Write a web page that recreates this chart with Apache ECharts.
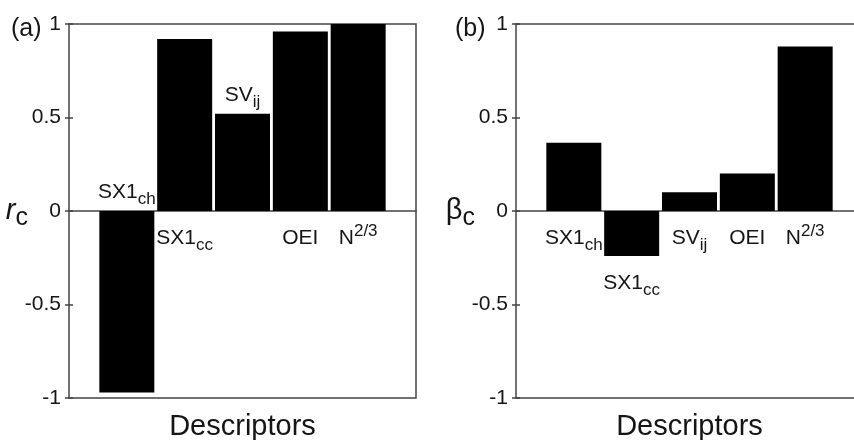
<!DOCTYPE html>
<html><head><meta charset="utf-8">
<script src="https://cdn.jsdelivr.net/npm/echarts@6/dist/echarts.min.js"></script>
<style>html,body{margin:0;padding:0;background:#fff}#c{width:854px;height:440px}</style>
</head><body><div id="c"></div>
<script>
// ---- data ----
const descriptorBase = ['SX1', 'SX1', 'SV', 'OEI', 'N'];
const descriptorSub = ['ch', 'cc', 'ij', '', ''];
const descriptorSup = ['', '', '', '', '2/3'];
const descriptorIndex = [1, 2, 3, 4, 5];
const rValues = [-0.97, 0.92, 0.52, 0.96, 1.0];
const betaValues = [0.365, -0.24, 0.10, 0.20, 0.88];
const panelTags = ['(a)', '(b)'];
const xAxisTitle = 'Descriptors';

// ---- styling ----
const FONT = 'Liberation Sans';
const AXIS_COLOR = '#444';
const TEXT_COLOR = '#151515';
const labelPlacementA = ['top', 'bottom', 'top', 'bottom', 'bottom'];
const labelPlacementB = ['bottom', 'bottom', 'bottom', 'bottom', 'bottom'];

function labelText(i) {
  let s = '{b|' + descriptorBase[i] + '}';
  if (descriptorSub[i]) s += '{sub|' + descriptorSub[i] + '}';
  if (descriptorSup[i]) s += '{sup|' + descriptorSup[i] + '}';
  return s;
}
const labelRich = {
  b: { fontSize: 21, lineHeight: 31, verticalAlign: 'middle', fontFamily: FONT, color: TEXT_COLOR },
  sub: { fontSize: 17, lineHeight: 17, verticalAlign: 'bottom', fontFamily: FONT, color: TEXT_COLOR },
  sup: { fontSize: 17, lineHeight: 17, verticalAlign: 'top', fontFamily: FONT, color: TEXT_COLOR }
};

const grids = [
  { left: 69, top: 24, width: 347, height: 374 },
  { left: 516, top: 24, width: 347, height: 374 }
];

function yAxes(gridIndex, nameMain) {
  return [
    {
      type: 'value', gridIndex: gridIndex, position: 'left', min: -1, max: 1, interval: 0.5,
      axisLine: { show: false },
      axisTick: { show: true, inside: true, length: 4, lineStyle: { color: AXIS_COLOR, width: 1.5 } },
      axisLabel: { fontSize: 21, margin: 8, color: TEXT_COLOR, fontFamily: FONT },
      splitLine: { show: false },
      name: nameMain, nameLocation: 'middle', nameRotate: 0, nameGap: 41, nameMoveOverlap: false,
      nameTextStyle: {
        rich: {
          n: { fontSize: 29, fontFamily: FONT, color: TEXT_COLOR, lineHeight: 40, verticalAlign: 'middle' },
          ni: { fontSize: 29, fontFamily: FONT, fontStyle: 'italic', color: TEXT_COLOR, lineHeight: 40, verticalAlign: 'middle' },
          s: { fontSize: 25, fontFamily: FONT, color: TEXT_COLOR, lineHeight: 26, verticalAlign: 'bottom' }
        }
      }
    },
    {
      type: 'value', gridIndex: gridIndex, position: 'right', min: -1, max: 1, interval: 0.5,
      axisLine: { show: false },
      axisTick: { show: true, inside: true, length: 4, lineStyle: { color: AXIS_COLOR, width: 1.5 } },
      axisLabel: { show: false },
      splitLine: { show: false }
    }
  ];
}

function xAxes(gridIndex) {
  return [
    {
      type: 'value', gridIndex: gridIndex, min: 0, max: 6,
      axisLine: { show: true, onZero: true, lineStyle: { color: AXIS_COLOR, width: 1.5 } },
      axisTick: { show: false }, axisLabel: { show: false }, splitLine: { show: false }
    },
    {
      type: 'value', gridIndex: gridIndex, min: 0, max: 6, position: 'bottom',
      axisLine: { show: false, onZero: false }, axisTick: { show: false }, axisLabel: { show: false },
      splitLine: { show: false },
      name: xAxisTitle, nameLocation: 'middle', nameGap: 14, nameMoveOverlap: false,
      nameTextStyle: { fontSize: 29, fontFamily: FONT, color: TEXT_COLOR, verticalAlign: 'top' }
    }
  ];
}

function barSeries(values, placement, xIdx, yIdx) {
  return {
    type: 'bar', xAxisIndex: xIdx, yAxisIndex: yIdx, barWidth: 55,
    itemStyle: { color: '#000' },
    data: values.map((v, i) => ({
      value: [descriptorIndex[i], v],
      label: {
        show: true, position: placement[i], distance: placement[i] === 'top' ? 3 : 12,
        formatter: labelText(i), rich: labelRich
      }
    }))
  };
}

const chart = echarts.init(document.getElementById('c'), null, { renderer: 'canvas' });
chart.setOption({
  animation: false,
  backgroundColor: '#fff',
  grid: grids.map(g => Object.assign({
    show: true, borderColor: AXIS_COLOR, borderWidth: 1.5, backgroundColor: 'transparent',
    containLabel: false, outerBoundsMode: 'none'
  }, g)),
  xAxis: [].concat(xAxes(0), xAxes(1)),
  yAxis: [].concat(yAxes(0, '{ni|r}{s|c}'), yAxes(1, '{n|β}{s|c}')),
  series: [
    barSeries(rValues, labelPlacementA, 0, 0),
    barSeries(betaValues, labelPlacementB, 2, 2)
  ],
  graphic: [
    { type: 'text', left: 11, top: 17, style: { text: panelTags[0], fontSize: 25, fontFamily: FONT, fill: TEXT_COLOR } },
    { type: 'text', left: 455, top: 17, style: { text: panelTags[1], fontSize: 25, fontFamily: FONT, fill: TEXT_COLOR } }
  ]
});
</script></body></html>
